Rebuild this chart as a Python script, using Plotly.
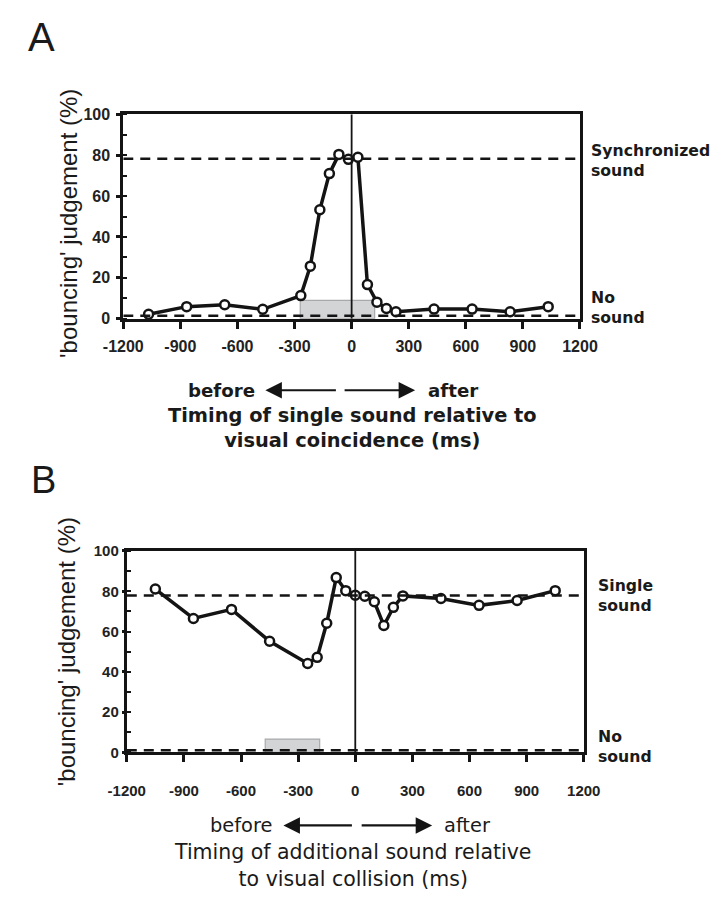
import plotly.graph_objects as go

# ---- data -------------------------------------------------------------
# Panel A: single sound timing vs. 'bouncing' judgements
a_time = [-1067, -867, -667, -467, -267, -217, -167, -117, -67, -17,
          33, 83, 133, 183, 233, 433, 633, 833, 1033]
a_pct = [2.2, 5.9, 6.8, 4.6, 11.3, 25.7, 53.3, 71.0, 80.4, 78.0,
         79.0, 16.7, 8.1, 5.0, 3.4, 4.7, 4.7, 3.4, 5.9]
a_ref_sync = 78.3      # synchronized-sound level
a_ref_none = 1.5       # no-sound level
a_box_x = [-270, 121]  # shaded interval
a_box_top = 9

# Panel B: additional sound timing vs. 'bouncing' judgements
b_time = [-1050, -850, -650, -450, -250, -200, -150, -100, -50, 0,
          50, 100, 150, 200, 250, 450, 650, 850, 1050]
b_pct = [81.1, 66.5, 71.0, 55.2, 44.1, 47.2, 64.1, 86.8, 80.3, 78.0,
         77.5, 74.8, 63.0, 72.0, 77.7, 76.4, 73.0, 75.4, 80.3]
b_ref_single = 77.9
b_ref_none = 1.0
b_box_x = [-473, -187]
b_box_top = 6.6

x_ticks = [-1200, -900, -600, -300, 0, 300, 600, 900, 1200]
x_ticktext = ["-1200", "-900", "-600", "-300", "0", "300", "600", "900", "1200"]
y_ticks = [0, 20, 40, 60, 80, 100]

W, H = 724, 903
FONT = "Liberation Sans, Arial, Helvetica, sans-serif"
WIDE = "DejaVu Sans, Verdana, sans-serif"
INK = "#141414"


def px(x):
    return x / W


def py(y):
    return 1 - y / H


fig = go.Figure()

for t, v, xa, ya in [(a_time, a_pct, "x", "y"), (b_time, b_pct, "x2", "y2")]:
    fig.add_trace(go.Scatter(
        x=t, y=v, xaxis=xa, yaxis=ya, mode="lines+markers",
        line=dict(color=INK, width=3.5),
        marker=dict(symbol="circle", size=9, color="white",
                    line=dict(color=INK, width=2.5)),
        cliponaxis=False, showlegend=False,
    ))

shapes = []
for xr, yr, box_x, box_top, levels in [
    ("x", "y", a_box_x, a_box_top, [a_ref_sync, a_ref_none]),
    ("x2", "y2", b_box_x, b_box_top, [b_ref_single, b_ref_none]),
]:
    # shaded interval
    shapes.append(dict(type="rect", xref=xr, yref=yr, x0=box_x[0], x1=box_x[1],
                       y0=0, y1=box_top, fillcolor="#d3d4d6",
                       line=dict(color="#a8a9ab", width=1.2), layer="below"))
    # reference levels
    for lv in levels:
        shapes.append(dict(type="line", xref=xr, yref=yr, x0=-1200, x1=1200,
                           y0=lv, y1=lv,
                           line=dict(color=INK, width=2.5, dash="10px,7px")))
    # zero-time marker
    shapes.append(dict(type="line", xref=xr, yref=yr, x0=0, x1=0, y0=0, y1=100,
                       line=dict(color=INK, width=1.8)))

axis_common = dict(showgrid=False, zeroline=False, showline=True, mirror=True,
                   linecolor=INK, linewidth=3)


def tickfont(size):
    return dict(family=FONT, size=size, color="#222222", weight="bold")


fig.update_layout(
    width=W, height=H,
    margin=dict(l=0, r=0, t=0, b=0),
    paper_bgcolor="white", plot_bgcolor="white",
    shapes=shapes,
    xaxis=dict(**axis_common, domain=[px(109), px(591)], range=[-1200, 1200],
               anchor="y", tickvals=x_ticks, ticktext=x_ticktext,
               ticks="outside", ticklen=7, tickwidth=2.5, tickcolor=INK,
               ticklabelstandoff=4, tickfont=tickfont(16)),
    yaxis=dict(**axis_common, domain=[py(316), py(107.5)], range=[0, 100],
               anchor="x", tickvals=y_ticks,
               ticks="outside", ticklen=4, tickwidth=2.5, tickcolor=INK,
               ticklabelstandoff=3,
               minor=dict(dtick=10, ticks="inside", ticklen=4, tickwidth=2,
                          tickcolor=INK),
               tickfont=tickfont(16)),
    xaxis2=dict(**axis_common, domain=[px(112.7), px(595)], range=[-1200, 1200],
                anchor="y2", tickvals=x_ticks, ticktext=x_ticktext,
                ticks="outside", ticklen=7, tickwidth=2.5, tickcolor=INK,
                ticklabelstandoff=16, tickfont=tickfont(15)),
    yaxis2=dict(**axis_common, domain=[py(758.5), py(553)], range=[0, 100],
                anchor="x2", tickvals=y_ticks,
                ticks="outside", ticklen=2, tickwidth=2.5, tickcolor=INK,
                ticklabelstandoff=0,
                minor=dict(dtick=10, ticks="inside", ticklen=4, tickwidth=2,
                           tickcolor=INK),
                tickfont=tickfont(15)),
)

ann = []


def text(x, y, s, size, bold=False, xanchor="center", angle=0, family=WIDE,
         align="center"):
    ann.append(dict(xref="paper", yref="paper", x=px(x), y=py(y), text=s,
                    showarrow=False, xanchor=xanchor, yanchor="middle",
                    textangle=angle, align=align,
                    font=dict(family=family, size=size, color="#1a1a1a",
                              weight="bold" if bold else "normal")))


def arrow(head_x, tail_x, y):
    ann.append(dict(xref="paper", yref="paper", x=px(head_x), y=py(y),
                    ax=tail_x - head_x, ay=0, text="", showarrow=True,
                    arrowhead=2, arrowsize=1.5, arrowwidth=2.2,
                    arrowcolor=INK))


# panel letters
text(22.5, 29, "A", 40, family=FONT)
text(25, 481, "B", 38, family=FONT)

# y-axis titles
text(51, 219, "'bouncing' judgement (%)", 24, angle=-90, family=FONT)
text(50, 656, "'bouncing' judgement (%)", 24, angle=-90, family=FONT)

# reference-level labels
text(601, 155, "Synchronized<br>sound", 15.7, bold=True, xanchor="left", align="left")
text(601, 305, "No<br>sound", 15.7, bold=True, xanchor="left", align="left")
text(608, 598, "Single<br>sound", 15.7, bold=True, xanchor="left", align="left")
text(608, 753, "No<br>sound", 15.7, bold=True, xanchor="left", align="left")

# panel A timing caption
text(250, 389, "before", 18.2, bold=True, xanchor="right")
arrow(259, 331, 389)
arrow(417, 345, 389)
text(428, 389, "after", 18.2, bold=True, xanchor="left")
text(351, 428, "Timing of single sound relative to<br>visual coincidence (ms)",
     19.4, bold=True)

# panel B timing caption
text(268, 833, "before", 19.4, xanchor="right")
arrow(278, 348, 833)
arrow(435, 363, 833)
text(445, 833, "after", 19.4, xanchor="left")
text(351, 874, "Timing of additional sound relative<br>to visual collision (ms)",
     20.5)

fig.update_layout(annotations=ann)

fig.write_html("out.html")
